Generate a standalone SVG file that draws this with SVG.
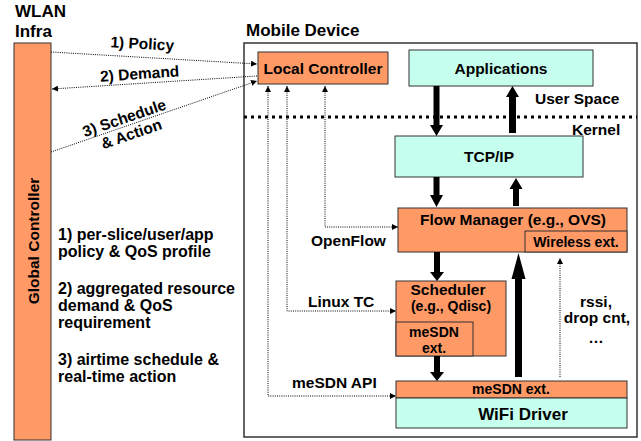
<svg xmlns="http://www.w3.org/2000/svg" width="641" height="441" viewBox="0 0 641 441">
<style>
text{font-family:"Liberation Sans",Arial,sans-serif;font-weight:bold;fill:#000}
.t15{font-size:15.5px}
.t16{font-size:16px}
.t14{font-size:14px}
.t17{font-size:17px}
.mid{text-anchor:middle}
.or{fill:#FF9966;stroke:#333;stroke-width:1}
.cy{fill:#C6FFEE;stroke:#333;stroke-width:1}
.dot{fill:none;stroke:#000;stroke-width:1;stroke-dasharray:1 1.2}
.thick{fill:#000}
</style>
<defs>
<marker id="ah" viewBox="0 0 6 6" refX="6" refY="3" markerWidth="6" markerHeight="6" markerUnits="userSpaceOnUse" orient="auto-start-reverse">
<path d="M0,0 L6,3 L0,6 Z" fill="#000"/>
</marker>
</defs>
<rect width="641" height="441" fill="#fff"/>

<g id="wlan-title">
<text class="t17" x="15" y="17">WLAN</text>
<text class="t17" x="15" y="37">Infra</text>
</g>
<g id="global-controller">
<rect class="or" x="14" y="43" width="37" height="397"/>
<text class="t15 mid" transform="translate(39,241) rotate(-90)">Global Controller</text>
</g>
<g id="legend">
<text class="t16" x="58" y="240">1) per-slice/user/app</text>
<text class="t16" x="58" y="257">policy &amp; QoS profile</text>
<text class="t16" x="58" y="294">2) aggregated resource</text>
<text class="t16" x="58" y="311">demand &amp; QoS</text>
<text class="t16" x="58" y="328">requirement</text>
<text class="t16" x="58" y="365">3) airtime schedule &amp;</text>
<text class="t16" x="58" y="382">real-time action</text>
</g>

<g id="mobile-device">
<text class="t17" x="246" y="36">Mobile Device</text>
<rect x="244" y="43" width="393" height="394" fill="none" stroke="#333" stroke-width="1.5"/>
<line x1="244" y1="117" x2="637" y2="117" stroke="#000" stroke-width="3" stroke-dasharray="3 4"/>
<text class="t15" x="535" y="104">User Space</text>
<text class="t15" x="572" y="135">Kernel</text>
</g>

<g id="local-controller">
<rect class="or" x="258" y="52" width="130" height="32"/>
<text class="t15 mid" x="323" y="74">Local Controller</text>
</g>
<g id="applications">
<rect class="cy" x="409" y="50" width="184" height="36"/>
<text class="t15 mid" x="501" y="74">Applications</text>
</g>
<g id="tcpip">
<rect class="cy" x="395" y="136" width="188" height="41"/>
<text class="t15 mid" x="489" y="162">TCP/IP</text>
</g>
<g id="flow-manager">
<rect class="or" x="398" y="208" width="229" height="44"/>
<text class="t15 mid" x="513" y="225">Flow Manager (e.g., OVS)</text>
<rect class="or" x="525" y="231" width="102" height="21"/>
<text class="t14 mid" x="576" y="247">Wireless ext.</text>
</g>
<g id="scheduler">
<rect class="or" x="396" y="281" width="110" height="75"/>
<text class="t15 mid" x="448" y="295">Scheduler</text>
<text class="t14 mid" x="451" y="311">(e.g., Qdisc)</text>
<rect class="or" x="396" y="322" width="77" height="34"/>
<text class="t14 mid" x="434" y="337">meSDN</text>
<text class="t14 mid" x="434" y="353">ext.</text>
</g>
<g id="wifi-driver">
<rect class="or" x="396" y="381" width="231" height="17"/>
<text class="t14 mid" x="511" y="394">meSDN ext.</text>
<rect class="cy" x="396" y="398" width="231" height="30"/>
<text class="t17 mid" x="523" y="420">WiFi Driver</text>
</g>
<g id="rssi-label">
<text class="t15 mid" x="596" y="307">rssi,</text>
<text class="t15 mid" x="597" y="323">drop cnt,</text>
<text class="t15 mid" x="596" y="343">…</text>
</g>

<g id="connectors">
<line class="dot" x1="51" y1="52" x2="257" y2="64" marker-end="url(#ah)"/>
<line class="dot" x1="257" y1="76" x2="52" y2="89" marker-end="url(#ah)"/>
<line class="dot" x1="51" y1="152" x2="257" y2="81" marker-end="url(#ah)"/>
<text class="t15 mid" transform="translate(142,49) rotate(3)">1) Policy</text>
<text class="t15 mid" transform="translate(140,79) rotate(-4)">2) Demand</text>
<text class="t15 mid" transform="translate(126,123) rotate(-19)">3) Schedule</text>
<text class="t15 mid" transform="translate(133,139) rotate(-19)">&amp; Action</text>

<polyline class="dot" points="325,86 325,227 398,227" marker-start="url(#ah)" marker-end="url(#ah)"/>
<polyline class="dot" points="287,86 287,311 396,311" marker-start="url(#ah)" marker-end="url(#ah)"/>
<polyline class="dot" points="268,86 268,396 396,396" marker-start="url(#ah)" marker-end="url(#ah)"/>
<text class="t15" x="311" y="246">OpenFlow</text>
<text class="t15" x="308" y="307">Linux TC</text>
<text class="t15" x="292" y="388">meSDN API</text>

<line class="dot" x1="560" y1="377" x2="560" y2="258" marker-end="url(#ah)"/>

<polygon class="thick" points="433.5,86 439.5,86 439.5,125 443,125 436.5,136 430,125 433.5,125"/>
<polygon class="thick" points="509,133 516,133 516,97 519,97 512.5,86 506,97 509,97"/>
<polygon class="thick" points="433.5,177 439.5,177 439.5,195 443,195 436.5,207 430,195 433.5,195"/>
<polygon class="thick" points="513,206 519,206 519,189 522.5,189 516,178 509.5,189 513,189"/>
<polygon class="thick" points="434,252 440,252 440,272 444,272 437,281 430,272 434,272"/>
<polygon class="thick" points="434,356 440,356 440,372 444,372 437,381 430,372 434,372"/>
<polygon class="thick" points="515,377 522,377 522,279 525.5,279 518.5,253 511.5,279 515,279"/>
</g>
</svg>
